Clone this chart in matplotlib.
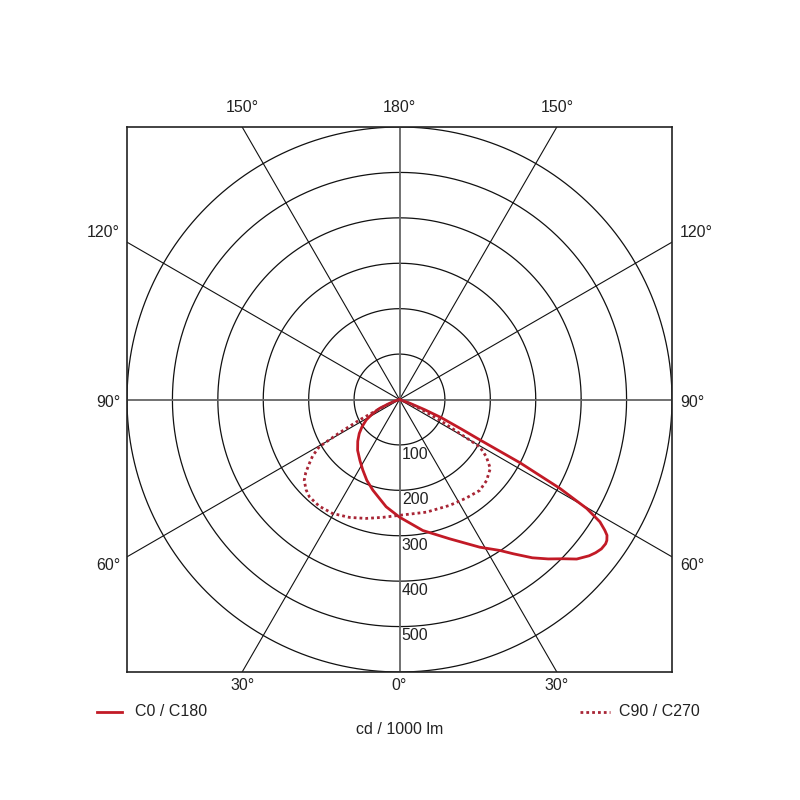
import numpy as np
import matplotlib
matplotlib.use("Agg")
import matplotlib.pyplot as plt
from matplotlib.lines import Line2D

plt.rcParams['font.family'] = ['Liberation Sans', 'DejaVu Sans']

# C0 / C180 plane: gamma angle from nadir (negative = C180 side), intensity cd/1000 lm
c0_gamma = [-80, -72, -69, -66, -62, -58.4, -54, -49.8, -45, -39.5, -33, -27.5, -22, -16.4,
            -7.1, 0, 10.1, 19.8, 28.5, 33.6, 36.4, 40, 43, 45.8, 48, 50.5, 52, 53.5, 55,
            55.8, 56.8, 57.5, 58.6, 59.8, 61, 62.3, 63.3, 64.5, 66.5, 68, 70, 75]
c0_cd = [0, 8, 24, 48, 68, 86, 102, 116, 130, 145, 160, 175, 192, 208,
         238, 259, 293, 326, 370, 399, 422, 455, 480, 503, 525, 541, 548, 553, 554,
         552, 546, 536, 517, 477, 404, 300, 200, 150, 100, 60, 25, 0]

# C90 / C270 plane
c90_gamma = [-75, -70, -65, -62.9, -61, -59.5, -57, -54.7, -52, -49.7, -46, -42.8, -37, -30.4,
             -23, -15.7, -8, 0, 13.4, 25.4, 34, 41.5, 47, 52.8, 56.6, 59.5, 60.6, 62.9,
             66, 70, 75]
c90_cd = [0, 15, 50, 99, 151, 205, 228, 243, 262, 275, 286, 292, 294, 291,
          282, 272, 262, 255, 255, 258, 262, 267, 262, 251, 229, 205, 152, 99,
          50, 15, 0]

rings = [100, 200, 300, 400, 500, 600]
ring_labels = ["100", "200", "300", "400", "500"]
spoke_angles = [30, 60, 120, 150]

R = 600
red = '#c21a26'
dot_red = '#a82535'
tc = '#222222'
fs = 11.5

fig = plt.figure(figsize=(8, 8), dpi=100)
ax = fig.add_axes([127 / 800, 128 / 800, 545 / 800, 545 / 800])
ax.set_xlim(-R, R)
ax.set_ylim(-R, R)
ax.set_aspect('equal')
ax.set_xticks([])
ax.set_yticks([])
for s in ax.spines.values():
    s.set_linewidth(1.2)
    s.set_color(tc)

# rings
t = np.linspace(0, 2 * np.pi, 721)
for r in rings:
    ax.plot(r * np.cos(t), r * np.sin(t), color='#111111', lw=0.9, zorder=1)

# spokes through the centre
L = 2 * R
for a in spoke_angles:
    g = np.radians(a)
    dx, dy = L * np.sin(g), -L * np.cos(g)
    ax.plot([-dx, dx], [-dy, dy], color='#111111', lw=0.8, zorder=1)
ax.axhline(0, color='#666666', lw=1.3, zorder=1)
ax.axvline(0, color='#666666', lw=1.3, zorder=1)

for r, lab in zip(rings, ring_labels):
    ax.text(5, -r - 4, lab, ha='left', va='top', fontsize=fs, color=tc, zorder=3)


def to_xy(gamma, cd):
    g = np.radians(np.array(gamma, dtype=float))
    c = np.array(cd, dtype=float)
    return c * np.sin(g), -c * np.cos(g)


x0, y0 = to_xy(c0_gamma, c0_cd)
x90, y90 = to_xy(c90_gamma, c90_cd)
ax.plot(x0, y0, color=red, lw=2.0, solid_joinstyle='round', zorder=4)
ax.plot(x90, y90, color=dot_red, lw=2.0, linestyle=(0, (1, 1.1)), zorder=4)

# angle labels around the frame
off = R * np.tan(np.radians(30))
for xx, lab in [(-off, "30°"), (0, "0°"), (off, "30°")]:
    ax.text(xx, -R - 30, lab, ha='center', va='center', fontsize=fs, color=tc, clip_on=False)
for xx, lab in [(-off, "150°"), (0, "180°"), (off, "150°")]:
    ax.text(xx, R + 42, lab, ha='center', va='center', fontsize=fs, color=tc, clip_on=False)
for yy, lab in [(off + 22, "120°"), (-7, "90°"), (-off - 18, "60°")]:
    ax.text(-R - 15, yy, lab, ha='right', va='center', fontsize=fs, color=tc, clip_on=False)
    ax.text(R + 18, yy, lab, ha='left', va='center', fontsize=fs, color=tc, clip_on=False)

# legend and unit
ly = 88 / 800
fig.add_artist(Line2D([97 / 800, 122 / 800], [ly, ly], transform=fig.transFigure,
                      color=red, lw=2.0))
fig.text(135 / 800, ly, "C0 / C180", ha='left', va='center', fontsize=fs, color=tc)
fig.add_artist(Line2D([580 / 800, 610 / 800], [ly, ly], transform=fig.transFigure,
                      color=dot_red, lw=2.0, linestyle=(0, (1, 1.1))))
fig.text(619 / 800, ly, "C90 / C270", ha='left', va='center', fontsize=fs, color=tc)
fig.text(400 / 800, 70 / 800, "cd / 1000 lm", ha='center', va='center', fontsize=fs, color=tc)

plt.savefig("out.png", dpi=100, facecolor='white')
